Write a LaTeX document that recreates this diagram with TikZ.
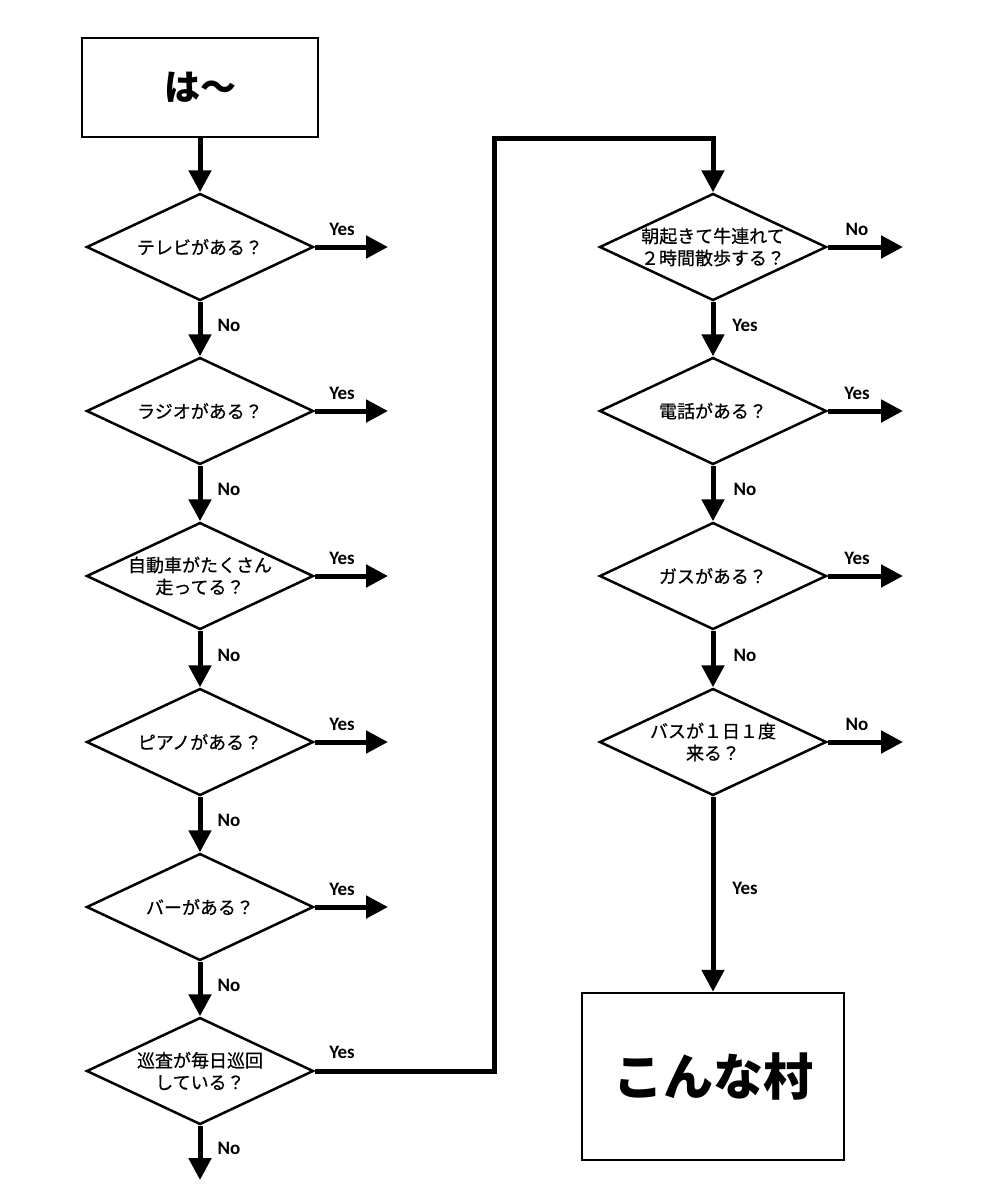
\documentclass[tikz,border=0pt]{standalone}
\usepackage{fontspec}
\setmainfont{Noto Sans CJK JP}
\newfontfamily\cjkm{Noto Sans CJK JP}[FakeBold=0.6]
\newfontfamily\latf{Carlito}
\usetikzlibrary{shapes.geometric,arrows.meta}
\begin{document}
\begin{tikzpicture}[x=1pt,y=-1pt,
 dia/.style={diamond, draw, line width=2.5pt, aspect=2.12, minimum width=227pt, minimum height=107pt, inner sep=0pt, align=center, font=\cjkm\fontsize{18}{22}\selectfont},
 box/.style={draw, line width=2.5pt, inner sep=0pt},
 conn/.style={line width=5pt, -{Triangle[length=22pt,width=22pt]}},
 lab/.style={font=\latf\bfseries\fontsize{19}{22}\selectfont}
]
\useasboundingbox[fill=white] (0,0) rectangle (983,1200);
% left column
\node[box, minimum width=236pt, minimum height=99pt, font=\bfseries\fontsize{36}{40}\selectfont] (start) at (200,87.5) {は～};
\node[dia] (d1) at (200,247) {テレビがある？};
\node[dia] (d2) at (200,411) {ラジオがある？};
\node[dia] (d3) at (200,576) {自動車がたくさん\\走ってる？};
\node[dia] (d4) at (200,742) {ピアノがある？};
\node[dia] (d5) at (200,907) {バーがある？};
\node[dia] (d6) at (200,1071) {巡査が毎日巡回\\している？};
% right column
\node[dia] (r1) at (713,247) {朝起きて牛連れて\\２時間散歩する？};
\node[dia] (r2) at (713,411) {電話がある？};
\node[dia] (r3) at (713,576) {ガスがある？};
\node[dia] (r4) at (713,742) {バスが１日１度\\来る？};
\node[box, minimum width=262pt, minimum height=167pt, font=\bfseries\fontsize{50}{56}\selectfont] (end) at (713,1076.5) {こんな村};
% free ends
\coordinate (e1) at (388,247);
\coordinate (e2) at (388,411);
\coordinate (e3) at (388,576);
\coordinate (e4) at (388,742);
\coordinate (e5) at (388,907);
\coordinate (e6) at (200,1180);
\coordinate (f1) at (903,247);
\coordinate (f2) at (903,411);
\coordinate (f3) at (903,576);
\coordinate (f4) at (903,742);
\coordinate (c1) at (494,138);
% connectors
\draw[conn] (start) -- (d1);
\draw[conn] (d1) -- (d2);
\draw[conn] (d2) -- (d3);
\draw[conn] (d3) -- (d4);
\draw[conn] (d4) -- (d5);
\draw[conn] (d5) -- (d6);
\draw[conn] (d6.south) -- (e6);
\draw[conn] (d1.east) -- (e1);
\draw[conn] (d2.east) -- (e2);
\draw[conn] (d3.east) -- (e3);
\draw[conn] (d4.east) -- (e4);
\draw[conn] (d5.east) -- (e5);
\draw[conn] (d6.east) -| (c1) -| (r1.north);
\draw[conn] (r1) -- (r2);
\draw[conn] (r2) -- (r3);
\draw[conn] (r3) -- (r4);
\draw[conn] (r4) -- (end);
\draw[conn] (r1.east) -- (f1);
\draw[conn] (r2.east) -- (f2);
\draw[conn] (r3.east) -- (f3);
\draw[conn] (r4.east) -- (f4);
% labels
\node[lab] (ly1) at (342,229) {Yes};
\node[lab] (ly2) at (342,393) {Yes};
\node[lab] (ly3) at (342,558) {Yes};
\node[lab] (ly4) at (342,724) {Yes};
\node[lab] (ly5) at (342,889) {Yes};
\node[lab] (ly6) at (342,1052) {Yes};
\node[lab] (ln1) at (229,325) {No};
\node[lab] (ln2) at (229,489) {No};
\node[lab] (ln3) at (229,655) {No};
\node[lab] (ln4) at (229,820) {No};
\node[lab] (ln5) at (229,985) {No};
\node[lab] (ln6) at (229,1148) {No};
\node[lab] (rn1) at (857,229) {No};
\node[lab] (ry2) at (857,393) {Yes};
\node[lab] (ry3) at (857,558) {Yes};
\node[lab] (rn4) at (857,724) {No};
\node[lab] (ry1) at (745,325) {Yes};
\node[lab] (rn2) at (745,489) {No};
\node[lab] (rn3) at (745,655) {No};
\node[lab] (ry4) at (745,888) {Yes};
\end{tikzpicture}
\end{document}
